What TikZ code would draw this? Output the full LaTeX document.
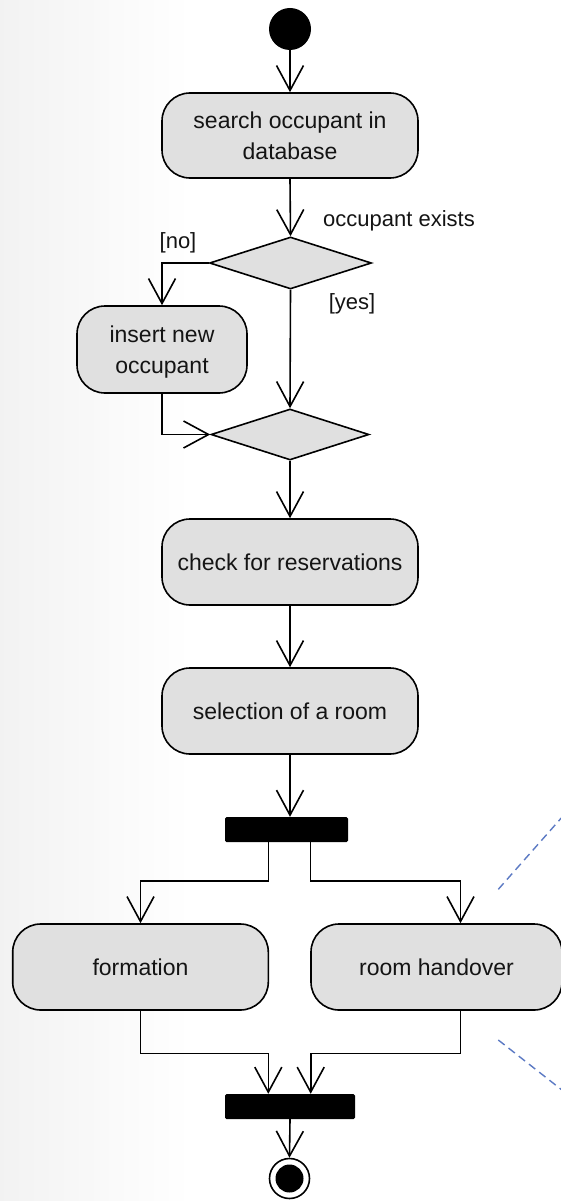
\documentclass[tikz,border=0pt]{standalone}
\usepackage{fontspec}
\setmainfont{Liberation Sans}
\usetikzlibrary{arrows.meta,shapes.geometric,calc}
\definecolor{actfill}{RGB}{224,224,224}
\definecolor{notec}{RGB}{92,122,196}
\pgfdeclarehorizontalshading{bgshade}{100bp}{color(0bp)=(black!5); color(25bp)=(black!5); color(42bp)=(white); color(100bp)=(white)}
\begin{document}
\begin{tikzpicture}[x=1pt,y=-1pt,
  txt/.style={font=\fontsize{23}{31}\selectfont, text=black!92},
  lab/.style={font=\fontsize{22}{28}\selectfont, text=black!92, inner sep=0pt},
  act/.style={txt, draw=black, line width=1.6pt, fill=actfill, rounded corners=28pt,
              inner sep=0pt, align=center, text depth=0pt},
  dec/.style={diamond, draw=black, line width=1.6pt, fill=actfill, inner sep=0pt},
  bar/.style={fill=black, draw=none, inner sep=0pt, rounded corners=1.5pt},
  arr/.style={line width=1.6pt, draw=black, -{Straight Barb[length=25pt,width=27pt,line width=1.6pt]}},
  note/.style={draw=notec, line width=1.4pt, dash pattern=on 8pt off 5pt}
]
\useasboundingbox (0,0) rectangle (561,1201);
\clip (0,0) rectangle (561,1201);
\shade[shading=bgshade] (0,0) rectangle (561,1201);

% nodes
\node[circle, fill=black, minimum size=42pt, inner sep=0pt] (start) at (290,29) {};
\node[act, minimum width=256pt, minimum height=85pt] (search) at (290,135.5) {search occupant in\\database};
\node[dec, minimum width=162pt, minimum height=52pt] (d1) at (290.5,263) {};
\node[act, minimum width=170pt, minimum height=87pt] (ins) at (162,349.5) {insert new\\occupant};
\node[dec, minimum width=158pt, minimum height=51pt] (d2) at (290,434.5) {};
\node[act, minimum width=256pt, minimum height=86pt] (check) at (290,562) {check for reservations};
\node[act, minimum width=256pt, minimum height=86pt] (select) at (290,711) {selection of a room};
\node[bar, minimum width=123pt, minimum height=25pt] (fork) at (286.5,829.5) {};
\node[act, minimum width=255.6pt, minimum height=86pt] (form) at (140.5,967) {formation};
\node[act, minimum width=251pt, minimum height=86pt] (room) at (436.5,967) {room handover};
\node[bar, minimum width=130pt, minimum height=25pt] (join) at (290,1106.5) {};
\node[circle, draw=black, line width=1.6pt, fill=white, minimum size=40pt, inner sep=0pt,
      path picture={\fill[black] (path picture bounding box.center) circle (14pt);}] (final) at (289.5,1178.5) {};

% labels
\node[lab, anchor=base west] (lexists) at (323,226) {occupant exists};
\node[lab, anchor=base] (lno) at (178,248) {[no]};
\node[lab, anchor=base] (lyes) at (352,309) {[yes]};

% connectors
\draw[arr] (start.south) -- (search.north);
\draw[arr] (search.south) -- (d1.north);
\draw[arr] (d1.west) -| (ins.north);
\draw[arr] (d1.south) -- (d2.north);
\draw[arr] (ins.south) |- (d2.west);
\draw[arr] (d2.south) -- (check.north);
\draw[arr] (check.south) -- (select.north);
\draw[arr] (select.south) -- (select.south |- fork.north);
\draw[arr] ([xshift=-18.2pt]fork.south) -- ++(0,39) -| (form.north);
\draw[arr] ([xshift=24pt]fork.south) -- ++(0,39) -| ([xshift=24pt]room.north);
\draw[arr] (form.south) -- ++(0,42.7) -| ([xshift=-21.7pt]join.north);
\draw[arr] ([xshift=24pt]room.south) -- ++(0,42.7) -| ([xshift=20.7pt]join.north);
\draw[arr] (join.south) -- (final.north);

% dashed callout lines
\coordinate (n1a) at (498.3,889.3);
\coordinate (n1b) at (580,796.8);
\coordinate (n2a) at (498.3,1040);
\coordinate (n2b) at (580,1104.2);
\draw[note] (n1a) -- (n1b);
\draw[note] (n2a) -- (n2b);
\end{tikzpicture}
\end{document}
